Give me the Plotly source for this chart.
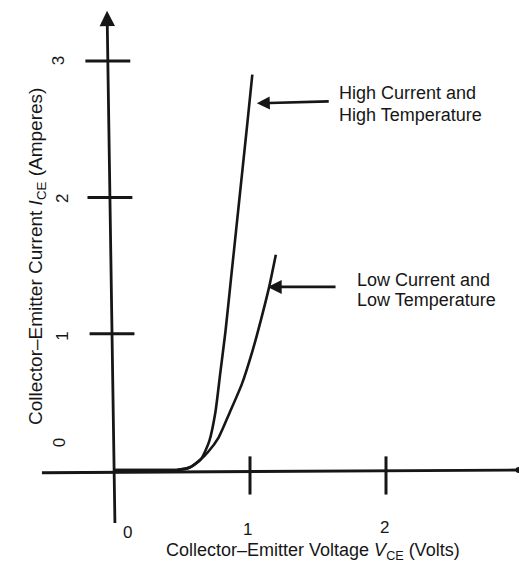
import plotly.graph_objects as go

# ---- data ----
v_high = [0.0, 0.30, 0.46, 0.56, 0.64, 0.70, 0.745, 0.78, 0.82, 0.86, 0.90, 0.94, 0.98, 1.017]
i_high = [0.0, 0.0, 0.0, 0.02, 0.08, 0.21, 0.42, 0.70, 1.02, 1.40, 1.78, 2.16, 2.54, 2.90]

v_low = [0.0, 0.30, 0.46, 0.56, 0.64, 0.69, 0.77, 0.85, 0.94, 1.02, 1.08, 1.14, 1.19]
i_low = [0.0, 0.0, 0.0, 0.02, 0.08, 0.13, 0.24, 0.42, 0.63, 0.88, 1.10, 1.34, 1.58]

x_ticks = [1, 2]
x_tick_labels = ["0", "1", "2"]
y_ticks = [1, 2, 3]
y_tick_labels = ["0", "1", "2", "3"]

label_high = ["High Current and", "High Temperature"]
label_low = ["Low Current and", "Low Temperature"]

x_title = "Collector\u2013Emitter Voltage <i>V</i><sub>CE</sub> (Volts)"
y_title = "Collector\u2013Emitter Current <i>I</i><sub>CE</sub> (Amperes)"

INK = "#161616"
FONT = "Liberation Sans, Arial, Helvetica, sans-serif"

fig = go.Figure()

for vv, ii in [(v_high, i_high), (v_low, i_low)]:
    fig.add_trace(go.Scatter(x=vv, y=ii, mode="lines",
                             line=dict(color=INK, width=2.6, shape="spline", smoothing=0.6),
                             showlegend=False, hoverinfo="skip"))

# end dot of the x axis
fig.add_trace(go.Scatter(x=[2.975], y=[0.0], mode="markers",
                         marker=dict(color=INK, size=6), showlegend=False, hoverinfo="skip"))

shapes = []
# x axis
shapes.append(dict(type="line", xref="x", yref="y", x0=-0.53, y0=-0.02, x1=2.97, y1=0.0,
                   line=dict(color=INK, width=2.8)))
# x ticks
for t in x_ticks:
    shapes.append(dict(type="line", xref="x", yref="y", x0=t, y0=0.10, x1=t, y1=-0.18,
                       line=dict(color=INK, width=3)))
# y ticks (axis is slightly tilted in the scan)
def axis_x_at(i):
    return 0.007 + (-0.058) * (i + 0.40) / 3.77
for t in y_ticks:
    cx = axis_x_at(t)
    shapes.append(dict(type="line", xref="x", yref="y", x0=cx - 0.165, y0=t, x1=cx + 0.165, y1=t,
                       line=dict(color=INK, width=3)))

annotations = []
# y axis with arrowhead
annotations.append(dict(x=-0.051, y=3.37, ax=0.007, ay=-0.40, xref="x", yref="y",
                        axref="x", ayref="y", showarrow=True, arrowhead=2, arrowsize=1.1,
                        arrowwidth=2.8, arrowcolor=INK, text="", standoff=0, startstandoff=0))
# pointer arrows
annotations.append(dict(x=1.05, y=2.69, ax=1.59, ay=2.705, xref="x", yref="y",
                        axref="x", ayref="y", showarrow=True, arrowhead=2, arrowsize=1,
                        arrowwidth=2.6, arrowcolor=INK, text=""))
annotations.append(dict(x=1.13, y=1.343, ax=1.64, ay=1.343, xref="x", yref="y",
                        axref="x", ayref="y", showarrow=True, arrowhead=2, arrowsize=1,
                        arrowwidth=2.8, arrowcolor=INK, text=""))

tf = dict(family=FONT, size=18, color=INK)
for k, txt in enumerate(label_high):
    annotations.append(dict(x=337 / 519, y=1 - (93 + 22 * k) / 580, xref="paper", yref="paper",
                            text=txt, showarrow=False, xanchor="left", yanchor="middle", font=tf))
for k, txt in enumerate(label_low):
    annotations.append(dict(x=355 / 519, y=1 - (280 + 20 * k) / 580, xref="paper", yref="paper",
                            text=txt, showarrow=False, xanchor="left", yanchor="middle", font=tf))

# x tick labels
x_lab_pos = [(0.096, -0.455), (0.985, -0.44), (1.99, -0.425)]
for lab, (px, py) in zip(x_tick_labels, x_lab_pos):
    annotations.append(dict(x=px, y=py, xref="x", yref="y", text=lab, showarrow=False,
                            font=dict(family=FONT, size=17, color=INK)))
# y tick labels (rotated)
y_lab_pos = [(-0.40, 0.20), (-0.38, 0.98), (-0.38, 1.99), (-0.41, 3.0)]
for lab, (px, py) in zip(y_tick_labels, y_lab_pos):
    annotations.append(dict(x=px, y=py, xref="x", yref="y", text=lab, showarrow=False,
                            textangle=-90, font=dict(family=FONT, size=17, color=INK)))

# axis titles
annotations.append(dict(x=313 / 519, y=1 - 565 / 580, xref="paper", yref="paper", text=x_title,
                        showarrow=False, font=dict(family=FONT, size=18, color=INK)))
annotations.append(dict(x=23 / 519, y=1 - 257 / 580, xref="paper", yref="paper", text=y_title,
                        showarrow=False, textangle=-90, font=dict(family=FONT, size=19, color=INK)))

fig.update_layout(
    width=519, height=580,
    margin=dict(l=0, r=0, t=0, b=0),
    paper_bgcolor="white", plot_bgcolor="white",
    xaxis=dict(range=[-114 / 136, (519 - 114) / 136], visible=False, fixedrange=True),
    yaxis=dict(range=[(470 - 580) / 136.3, 470 / 136.3], visible=False, fixedrange=True),
    shapes=shapes, annotations=annotations, showlegend=False,
)

fig.write_html("out.html", config={"displayModeBar": False},
               post_script="document.body.style.margin='0px';")
